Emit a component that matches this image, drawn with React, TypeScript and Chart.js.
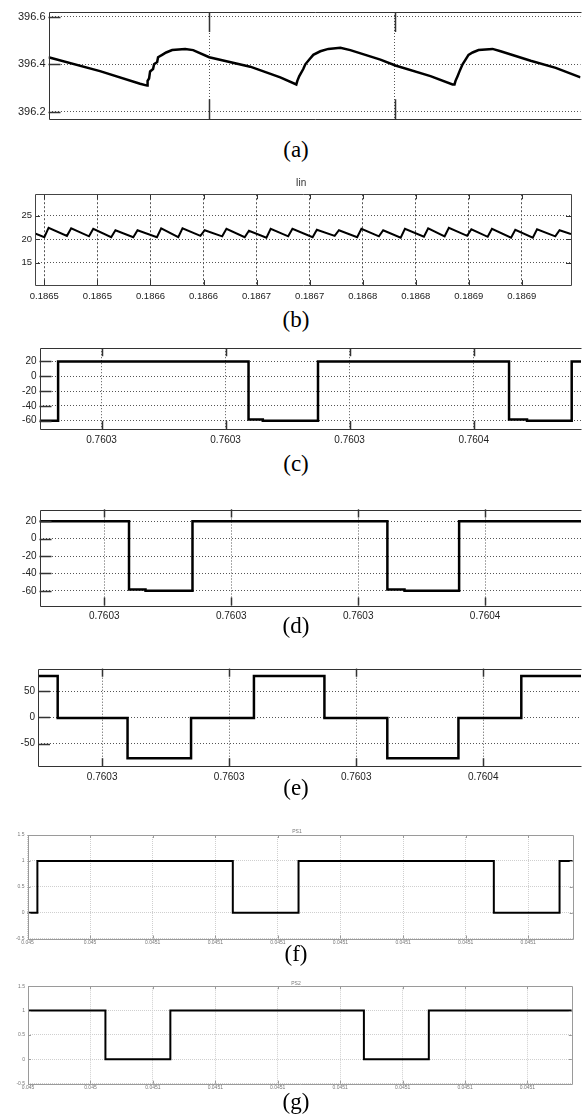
import React, { useEffect, useRef } from "react";
import { Chart, registerables } from "chart.js";
Chart.register(...registerables);

// ---------- (a) DC-link voltage ----------
const aTime = [26.6, 82.1, 125.3, 132.9, 133.4, 135.0, 136.1, 139.3, 140.4, 143.7, 144.7, 149.1, 153.4, 159.9, 173.9, 182.5, 199.8, 244.0, 276.4, 293.7, 294.8, 296.9, 301.2, 303.4, 307.7, 312.0, 319.6, 328.2, 341.2, 351.9, 384.3, 400.5, 438.3, 462.1, 464.2, 465.3, 467.5, 469.6, 472.9, 476.1, 479.3, 483.7, 490.1, 505.2, 513.9, 546.3, 573.3, 600.0];
const aVolt = [396.43, 396.371, 396.318, 396.31, 396.33, 396.34, 396.37, 396.38, 396.40, 396.41, 396.43, 396.44, 396.45, 396.46, 396.465, 396.46, 396.43, 396.39, 396.345, 396.315, 396.33, 396.35, 396.38, 396.40, 396.42, 396.44, 396.455, 396.465, 396.47, 396.46, 396.42, 396.395, 396.35, 396.315, 396.315, 396.33, 396.35, 396.37, 396.40, 396.42, 396.44, 396.45, 396.46, 396.465, 396.455, 396.415, 396.385, 396.345];
const aXTicks = [200, 400];
const aYTicks = [396.2, 396.4, 396.6];
const aYLabels = ["396.2", "396.4", "396.6"];

// ---------- (b) Iin ----------
const bTime = [-8.8, 0.0, 4.0, 21.3, 25.3, 42.1, 46.1, 63.0, 67.0, 83.8, 87.8, 106.1, 110.1, 126.2, 130.2, 147.1, 151.1, 167.6, 171.6, 188.8, 192.8, 209.3, 213.3, 229.8, 233.8, 252.8, 256.8, 273.6, 277.6, 294.8, 298.8, 315.3, 319.3, 335.8, 339.8, 357.7, 361.7, 377.2, 381.2, 398.4, 402.4, 417.8, 421.8, 439.8, 443.8, 460.3, 464.3, 481.5, 485.5, 496.3];
const bCurrent = [21.2, 20.4, 22.4, 20.7, 22.3, 20.6, 22.2, 20.4, 21.9, 20.4, 21.9, 20.4, 22.3, 20.4, 22.3, 20.7, 21.9, 20.6, 22.2, 20.4, 21.8, 20.3, 22.2, 20.6, 22.2, 20.4, 22.0, 20.7, 21.9, 20.4, 22.2, 20.6, 21.9, 20.3, 22.2, 20.5, 22.3, 20.6, 22.4, 20.7, 22.1, 20.5, 22.2, 20.3, 22.0, 20.3, 22.1, 20.6, 21.9, 21.1];
const bXTicks = [0, 50, 100, 150, 200, 250, 300, 350, 400, 450];
const bXLabels = ["0.1865", "0.1865", "0.1866", "0.1866", "0.1867", "0.1867", "0.1868", "0.1868", "0.1869", "0.1869"];
const bYTicks = [15, 20, 25];
const bYLabels = ["15", "20", "25"];

// ---------- (c), (d), (e) bridge voltages ----------
const cdeXTicks = [0, 20, 40, 60];
const cdeXLabels = ["0.7603", "0.7603", "0.7603", "0.7604"];
const cdYTicks = [-60, -40, -20, 0, 20];
const cdYLabels = ["-60", "-40", "-20", "0", "20"];

const cTime = [-10.0, -7.0, 23.7, 26.0, 34.9, 65.7, 68.6, 75.8, 77.3];
const cVolt = [-60, 20, -58.5, -60, 20, -58.5, -60, 20, 20];

const dTime = [-10.2, 3.9, 6.5, 13.9, 44.6, 47.3, 55.9, 75.1];
const dVolt = [20, -58.5, -60, 20, -58.5, -60, 20, 20];

const eTime = [-10.1, -7.0, 4.0, 14.0, 23.9, 35.0, 44.9, 56.1, 66.0, 75.4];
const eVolt = [79, -1, -78, -1, 79, -1, -78, -1, 79, 79];
const eYTicks = [-50, 0, 50];
const eYLabels = ["-50", "0", "50"];

// ---------- (f), (g) gate signals ----------
const fgXTicks = [0, 1, 2, 3, 4, 5, 6, 7, 8];
const fgXLabels = ["0.045", "0.045", "0.0451", "0.0451", "0.0451", "0.0451", "0.0451", "0.0451", "0.0451"];
const fgYTicks = [-0.5, 0, 0.5, 1, 1.5];
const fgYLabels = ["-0.5", "0", "0.5", "1", "1.5"];

const fTime = [0, 0.158, 3.28, 4.33, 7.45, 8.5, 8.71];
const fLevel = [0, 1, 0, 1, 0, 1, 1];

const gTime = [0, 1.24, 2.28, 5.38, 6.42, 8.71];
const gLevel = [1, 0, 1, 0, 1, 1];

const W = 588;
const SANS = "'Liberation Sans', Arial, Helvetica, sans-serif";
const SERIF = "'Liberation Serif', 'Times New Roman', Times, serif";

type Cfg = {
  id: string;
  top: number;
  height: number;
  box: { left: number; right: number; top: number; bottom: number };
  xs: number[];
  ys: number[];
  stepped: false | "before";
  lineWidth: number;
  xMin: number;
  xMax: number;
  xTicks: number[];
  xLabels: string[] | null;
  yMin: number;
  yMax: number;
  yTicks: number[];
  yLabels: string[];
  fontSize: number;
  labelColor: string;
  gridColor: string;
  dashX: number[];
  dashY: number[];
  frameColor: string;
  frameWidth: number;
  rightBorder: boolean;
  xLen: number;
  yLen: number;
  tickColor: string;
  tickWidth: number;
  xPad: number;
};

const framePlugin = {
  id: "frame",
  afterDatasetsDraw(chart: any, _args: any, o: any) {
    const { ctx, chartArea: a, scales } = chart;
    ctx.save();
    ctx.strokeStyle = o.tickColor;
    ctx.lineWidth = o.tickWidth;
    ctx.beginPath();
    scales.x.ticks.forEach((t: any) => {
      const x = Math.round(scales.x.getPixelForValue(t.value)) + 0.5;
      ctx.moveTo(x, a.top);
      ctx.lineTo(x, a.top + o.xLen);
      ctx.moveTo(x, a.bottom);
      ctx.lineTo(x, a.bottom - o.xLen);
    });
    scales.y.ticks.forEach((t: any) => {
      const y = Math.round(scales.y.getPixelForValue(t.value)) + 0.5;
      ctx.moveTo(a.left, y);
      ctx.lineTo(a.left + o.yLen, y);
      if (o.right) {
        ctx.moveTo(a.right, y);
        ctx.lineTo(a.right - o.yLen, y);
      }
    });
    ctx.stroke();
    ctx.strokeStyle = o.color;
    ctx.lineWidth = o.width;
    const l = Math.round(a.left) + 0.5;
    const r = Math.round(a.right) + 0.5;
    const tp = Math.round(a.top) + 0.5;
    const b = Math.round(a.bottom) + 0.5;
    ctx.beginPath();
    if (o.right) {
      ctx.rect(l, tp, r - l, b - tp);
    } else {
      ctx.moveTo(r, tp);
      ctx.lineTo(l, tp);
      ctx.lineTo(l, b);
      ctx.lineTo(r, b);
    }
    ctx.stroke();
    ctx.restore();
  },
};

const darkStyle = {
  labelColor: "#222",
  gridColor: "#555",
  dashX: [1, 2],
  dashY: [1, 2],
  frameColor: "#333",
  frameWidth: 1,
  tickColor: "#333",
  tickWidth: 1.5,
};

const lightStyle = {
  labelColor: "#777",
  gridColor: "#cfcfcf",
  dashX: [1, 1],
  dashY: [1, 1],
  frameColor: "#9a9a9a",
  frameWidth: 1,
  tickColor: "#9a9a9a",
  tickWidth: 1,
};

const PANELS: Cfg[] = [
  {
    id: "a", top: 0, height: 135,
    box: { left: 48.5, right: 580.5, top: 12, bottom: 119.2 },
    xs: aTime, ys: aVolt, stepped: false, lineWidth: 2.5,
    xMin: 26.6, xMax: 600, xTicks: aXTicks, xLabels: null,
    yMin: 396.168, yMax: 396.621, yTicks: aYTicks, yLabels: aYLabels,
    fontSize: 11, ...darkStyle, rightBorder: false, xLen: 20, yLen: 12, xPad: 4,
  },
  {
    id: "b", top: 165, height: 140,
    box: { left: 35, right: 571, top: 194.2, bottom: 285 },
    xs: bTime, ys: bCurrent, stepped: false, lineWidth: 2,
    xMin: -8.8, xMax: 496.3, xTicks: bXTicks, xLabels: bXLabels,
    yMin: 10.2, yMax: 29.6, yTicks: bYTicks, yLabels: bYLabels,
    fontSize: 9.5, ...darkStyle, dashX: [2, 2], frameColor: "#444", rightBorder: true, xLen: 5, yLen: 5, tickWidth: 1, xPad: 6,
  },
  {
    id: "c", top: 335, height: 115,
    box: { left: 39.5, right: 581, top: 348.2, bottom: 428.9 },
    xs: cTime, ys: cVolt, stepped: "before", lineWidth: 2.5,
    xMin: -10.0, xMax: 77.3, xTicks: cdeXTicks, xLabels: cdeXLabels,
    yMin: -71.1, yMax: 37.8, yTicks: cdYTicks, yLabels: cdYLabels,
    fontSize: 10, ...darkStyle, rightBorder: false, xLen: 8, yLen: 12, xPad: 5,
  },
  {
    id: "d", top: 495, height: 130,
    box: { left: 39.5, right: 581, top: 509.5, bottom: 605.5 },
    xs: dTime, ys: dVolt, stepped: "before", lineWidth: 2.5,
    xMin: -10.2, xMax: 75.1, xTicks: cdeXTicks, xLabels: cdeXLabels,
    yMin: -76.8, yMax: 33.4, yTicks: cdYTicks, yLabels: cdYLabels,
    fontSize: 10, ...darkStyle, rightBorder: false, xLen: 8, yLen: 12, xPad: 5,
  },
  {
    id: "e", top: 655, height: 128,
    box: { left: 38, right: 581, top: 668.7, bottom: 766.2 },
    xs: eTime, ys: eVolt, stepped: "before", lineWidth: 2.5,
    xMin: -10.1, xMax: 75.4, xTicks: cdeXTicks, xLabels: cdeXLabels,
    yMin: -93, yMax: 93, yTicks: eYTicks, yLabels: eYLabels,
    fontSize: 10, ...darkStyle, rightBorder: false, xLen: 8, yLen: 12, xPad: 5,
  },
  {
    id: "f", top: 826, height: 118,
    box: { left: 27.5, right: 572.7, top: 835, bottom: 938.5 },
    xs: fTime, ys: fLevel, stepped: "before", lineWidth: 2,
    xMin: 0, xMax: 8.71, xTicks: fgXTicks, xLabels: fgXLabels,
    yMin: -0.5, yMax: 1.5, yTicks: fgYTicks, yLabels: fgYLabels,
    fontSize: 5, ...lightStyle, rightBorder: true, xLen: 3, yLen: 3, xPad: 1,
  },
  {
    id: "g", top: 978, height: 112,
    box: { left: 28, right: 571.8, top: 986.2, bottom: 1083.7 },
    xs: gTime, ys: gLevel, stepped: "before", lineWidth: 2,
    xMin: 0, xMax: 8.71, xTicks: fgXTicks, xLabels: fgXLabels,
    yMin: -0.5, yMax: 1.5, yTicks: fgYTicks, yLabels: fgYLabels,
    fontSize: 5, ...lightStyle, rightBorder: true, xLen: 3, yLen: 3, xPad: 1,
  },
];

const TITLES = [
  { text: "Iin", cx: 301, top: 177, size: 10, color: "#333" },
  { text: "PS1", cx: 297, top: 828, size: 5, color: "#777" },
  { text: "PS2", cx: 296, top: 980, size: 5, color: "#777" },
];

const CAPTIONS = [
  { text: "(a)", top: 137 },
  { text: "(b)", top: 307 },
  { text: "(c)", top: 451 },
  { text: "(d)", top: 613 },
  { text: "(e)", top: 775 },
  { text: "(f)", top: 941 },
  { text: "(g)", top: 1089 },
];

function Panel({ cfg }: { cfg: Cfg }) {
  const ref = useRef<HTMLCanvasElement>(null);
  useEffect(() => {
    const c = cfg;
    const bottomH = c.top + c.height - c.box.bottom;
    const n = Math.min(c.xs.length, c.ys.length);
    const pts = [];
    for (let i = 0; i < n; i++) pts.push({ x: c.xs[i], y: c.ys[i] });
    const font = { family: SANS, size: c.fontSize };
    const chart = new Chart(ref.current as HTMLCanvasElement, {
      type: "line",
      data: {
        datasets: [
          {
            data: pts,
            borderColor: "#000",
            borderWidth: c.lineWidth,
            pointRadius: 0,
            stepped: c.stepped,
            tension: 0,
            fill: false,
          } as any,
        ],
      },
      options: {
        responsive: false,
        animation: false,
        devicePixelRatio: 1,
        events: [],
        layout: { padding: { left: 0, top: c.box.top - c.top, right: W - c.box.right, bottom: 0 } },
        plugins: {
          legend: { display: false },
          tooltip: { enabled: false },
          frame: {
            color: c.frameColor,
            width: c.frameWidth,
            right: c.rightBorder,
            xLen: c.xLen,
            yLen: c.yLen,
            tickColor: c.tickColor,
            tickWidth: c.tickWidth,
          },
        } as any,
        scales: {
          x: {
            type: "linear",
            min: c.xMin,
            max: c.xMax,
            afterBuildTicks: (s: any) => {
              s.ticks = c.xTicks.map((v) => ({ value: v }));
            },
            afterFit: (s: any) => {
              s.height = bottomH;
              s.paddingLeft = 0;
              s.paddingRight = 0;
            },
            ticks: {
              display: !!c.xLabels,
              autoSkip: false,
              maxRotation: 0,
              minRotation: 0,
              padding: c.xPad,
              color: c.labelColor,
              font,
              callback: (_v: any, i: number) => (c.xLabels ? c.xLabels[i] : ""),
            },
            grid: { color: c.gridColor, lineWidth: 1, drawTicks: false },
            border: { display: false, dash: c.dashX },
          },
          y: {
            type: "linear",
            min: c.yMin,
            max: c.yMax,
            afterBuildTicks: (s: any) => {
              s.ticks = c.yTicks.map((v) => ({ value: v }));
            },
            afterFit: (s: any) => {
              s.width = c.box.left;
              s.paddingTop = 0;
              s.paddingBottom = 0;
            },
            ticks: {
              autoSkip: false,
              padding: 3,
              color: c.labelColor,
              font,
              callback: (_v: any, i: number) => c.yLabels[i],
            },
            grid: { color: c.gridColor, lineWidth: 1, drawTicks: false },
            border: { display: false, dash: c.dashY },
          },
        },
      } as any,
      plugins: [framePlugin as any],
    });
    return () => chart.destroy();
  }, [cfg]);
  return (
    <canvas
      ref={ref}
      width={W}
      height={cfg.height}
      style={{ position: "absolute", left: 0, top: cfg.top, width: W, height: cfg.height }}
    />
  );
}

export default function App() {
  return (
    <div style={{ position: "absolute", left: 0, top: 0, width: W, height: 1116, background: "#fff", overflow: "hidden" }}>
      {PANELS.map((p) => (
        <Panel key={p.id} cfg={p} />
      ))}
      {TITLES.map((t) => (
        <div
          key={t.text}
          style={{
            position: "absolute",
            left: t.cx - 40,
            width: 80,
            top: t.top,
            textAlign: "center",
            fontFamily: SANS,
            fontSize: t.size,
            lineHeight: `${t.size + 2}px`,
            color: t.color,
          }}
        >
          {t.text}
        </div>
      ))}
      {CAPTIONS.map((c) => (
        <div
          key={c.text}
          style={{
            position: "absolute",
            left: 0,
            width: 592,
            top: c.top,
            textAlign: "center",
            fontFamily: SERIF,
            fontSize: 23,
            lineHeight: "26px",
            color: "#000",
          }}
        >
          {c.text}
        </div>
      ))}
    </div>
  );
}
